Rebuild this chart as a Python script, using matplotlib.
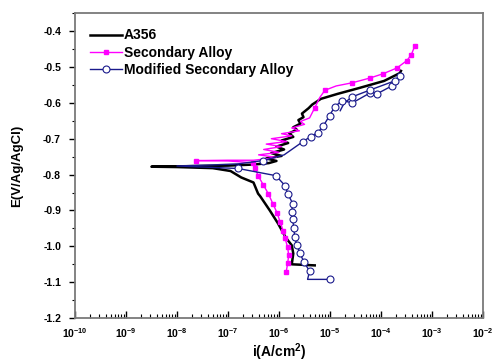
import numpy as np
import matplotlib
matplotlib.use('Agg')
import matplotlib.pyplot as plt
from matplotlib.lines import Line2D
from matplotlib.ticker import LogLocator, MultipleLocator, FormatStrFormatter

plt.rcParams['font.family'] = ['Liberation Sans', 'DejaVu Sans']
plt.rcParams['font.weight'] = 'bold'
plt.rcParams['mathtext.fontset'] = 'custom'
plt.rcParams['mathtext.rm'] = 'Liberation Sans:bold'
plt.rcParams['mathtext.bf'] = 'Liberation Sans:bold'
plt.rcParams['mathtext.default'] = 'bf'

# log10 of current density (A/cm2) and potential (V vs Ag/AgCl)
a356_logi = [-5.30, -5.75, -5.72, -5.75, -5.87, -6.02, -6.18, -6.37, -6.41, -6.50, -6.74, -6.95,
             -7.30, -8.00, -8.50, -8.00, -7.00, -6.50, -6.20, -6.05, -6.25, -5.95, -6.15, -5.90,
             -6.05, -5.82, -5.95, -5.72, -5.80, -5.65, -5.72, -5.58, -5.62, -5.52, -5.55, -5.42,
             -5.35, -5.18, -4.85, -4.41, -3.94, -3.63, -3.61]
a356_E = [-1.053, -1.050, -1.020, -0.997, -0.975, -0.936, -0.900, -0.860, -0.853, -0.822, -0.808, -0.790,
          -0.782, -0.779, -0.778, -0.777, -0.775, -0.772, -0.768, -0.762, -0.755, -0.748, -0.740, -0.730,
          -0.722, -0.712, -0.705, -0.695, -0.685, -0.675, -0.668, -0.658, -0.648, -0.640, -0.630, -0.615,
          -0.605, -0.589, -0.575, -0.558, -0.539, -0.517, -0.511]

sec_logi = [-5.86, -5.83, -5.81, -5.83, -5.88, -5.92, -5.98, -6.04, -6.12, -6.21, -6.31, -6.41,
            -6.47, -6.50, -7.00, -7.63, -7.00, -6.50, -6.30, -6.05, -6.40, -6.00, -6.30, -5.95,
            -6.25, -5.85, -6.15, -5.75, -5.95, -5.60, -5.75, -5.50, -5.58, -5.40, -5.30, -5.20,
            -5.10, -4.88, -4.56, -4.22, -3.96, -3.69, -3.50, -3.41, -3.34]
sec_E = [-1.072, -1.047, -1.025, -1.003, -0.978, -0.956, -0.931, -0.906, -0.881, -0.853, -0.828, -0.803,
         -0.781, -0.767, -0.762, -0.761, -0.760, -0.760, -0.757, -0.752, -0.745, -0.738, -0.730, -0.722,
         -0.715, -0.708, -0.700, -0.692, -0.686, -0.678, -0.670, -0.660, -0.652, -0.642, -0.614, -0.585,
         -0.565, -0.553, -0.544, -0.531, -0.519, -0.503, -0.483, -0.467, -0.442]
sec_marks = list(range(0, 14)) + [15] + [34, 36, 38, 39, 40, 41, 42, 43, 44]

mod_logi = [-5.01, -5.44, -5.40, -5.51, -5.59, -5.65, -5.69, -5.71, -5.73, -5.75, -5.73, -5.83,
            -5.88, -6.06, -6.80, -7.30, -8.00, -7.30, -6.80, -6.31, -5.90, -5.53, -5.38, -5.24,
            -5.13, -5.01, -4.91, -4.76, -4.56, -4.21, -4.08, -3.79, -3.63, -3.73, -3.83, -4.21,
            -4.56, -4.72, -4.80]
mod_E = [-1.092, -1.092, -1.069, -1.044, -1.019, -0.997, -0.975, -0.950, -0.925, -0.903, -0.881, -0.853,
         -0.831, -0.803, -0.783, -0.780, -0.776, -0.773, -0.770, -0.761, -0.745, -0.708, -0.694, -0.683,
         -0.664, -0.636, -0.611, -0.594, -0.600, -0.572, -0.575, -0.553, -0.525, -0.539, -0.544, -0.564,
         -0.583, -0.600, -0.622]
mod_marks = [0] + list(range(2, 15)) + [19] + list(range(21, 33)) + [33, 35, 36]

labels = ['A356', 'Secondary Alloy', 'Modified Secondary Alloy']
MAG = '#ff00ff'
NAVY = '#1a1a8c'

fig = plt.figure(figsize=(4.96, 3.64), dpi=100)
ax = fig.add_axes([0.151, 0.126, 0.823, 0.838])

ax.plot(np.power(10.0, a356_logi), a356_E, color='black', lw=1.8)
ax.plot(np.power(10.0, sec_logi), sec_E, color=MAG, lw=1.0, marker='s', ms=2.3,
        markevery=sec_marks)
ax.plot(np.power(10.0, mod_logi), mod_E, color=NAVY, lw=1.0, marker='o', ms=5,
        mfc='white', mec=NAVY, mew=0.8, markevery=mod_marks)

ax.set_xscale('log')
ax.set_xlim(1e-10, 1e-2)
ax.set_ylim(-1.2, -0.35)
ax.xaxis.set_major_locator(LogLocator(base=10, numticks=20))
ax.xaxis.set_minor_locator(LogLocator(base=10, subs=np.arange(2, 10), numticks=20))
ax.yaxis.set_major_locator(MultipleLocator(0.1))
ax.yaxis.set_minor_locator(MultipleLocator(0.05))
ax.yaxis.set_major_formatter(FormatStrFormatter('%.1f'))

ax.tick_params(axis='x', which='major', direction='in', length=5, width=1, labelsize=7.5, pad=6)
ax.tick_params(axis='x', which='minor', direction='in', length=3, width=0.8)
ax.tick_params(axis='y', which='major', direction='out', length=4, width=1, labelsize=7.5, pad=6)
ax.tick_params(axis='y', which='minor', direction='out', length=2.5, width=0.8)
ax.tick_params(top=False, right=False, which='both')
for s in ax.spines.values():
    s.set_color('#7a7a7a')
    s.set_linewidth(1.3)

ax.set_xlabel('i(A/cm$^2$)', fontsize=10, fontweight='bold', labelpad=1)
ax.set_ylabel('E(V/Ag/AgCl)', fontsize=9.5, fontweight='bold', labelpad=14)

handles = [Line2D([], [], color='black', lw=1.8),
           Line2D([], [], color=MAG, lw=1.0, marker='s', ms=2.3),
           Line2D([], [], color=NAVY, lw=1.0, marker='o', ms=5, mfc='white', mec=NAVY, mew=0.8)]
leg = ax.legend(handles, labels, loc='upper left', frameon=False, fontsize=10, numpoints=1,
                handlelength=2.3, handletextpad=0.1, labelspacing=0.25, borderaxespad=0.7)
for t in leg.get_texts():
    t.set_fontweight('bold')

fig.savefig('out.png', dpi=100)
